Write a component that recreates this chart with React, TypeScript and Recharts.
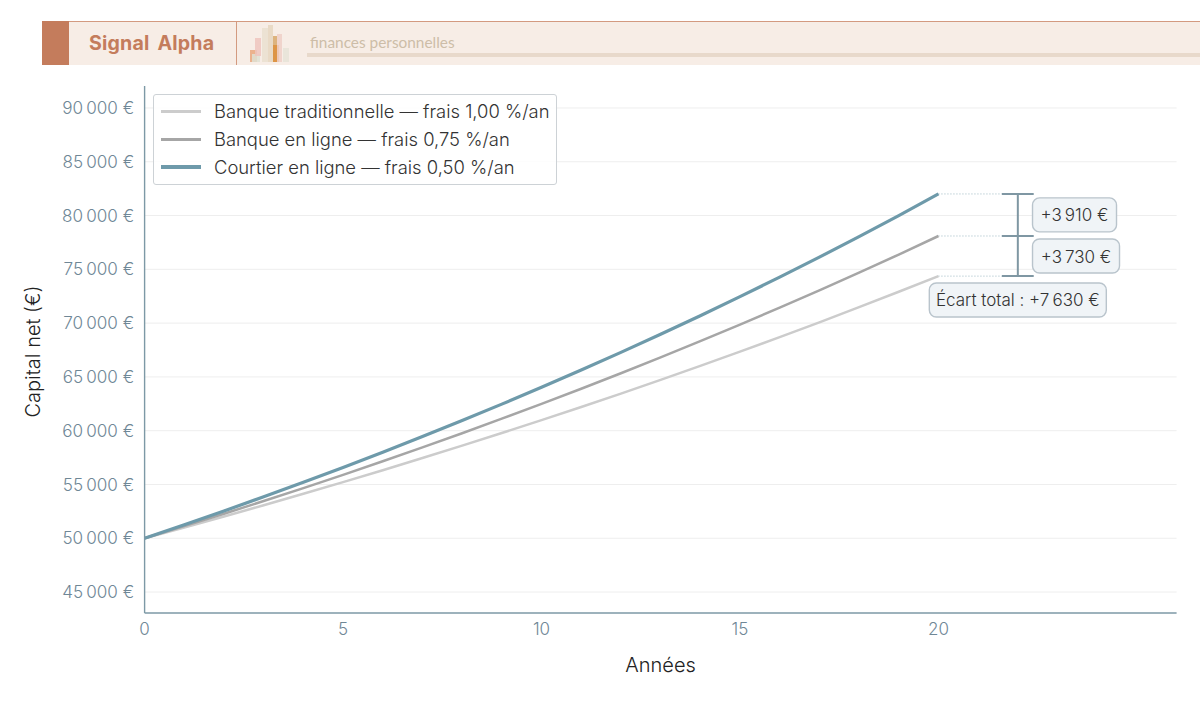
import React from "react";
import { LineChart, Line, XAxis, YAxis, CartesianGrid, ReferenceLine, ReferenceDot } from "recharts";

const years = [0, 1, 2, 3, 4, 5, 6, 7, 8, 9, 10, 11, 12, 13, 14, 15, 16, 17, 18, 19, 20];
const traditionnelle = [50000, 51003, 52025, 53070, 54135, 55215, 56325, 57455, 58610, 59785, 60985, 62205, 63450, 64725, 66025, 67350, 68695, 70075, 71480, 72915, 74370];
const enLigne = [50000, 51127, 52280, 53460, 54665, 55895, 57160, 58450, 59765, 61115, 62490, 63900, 65340, 66810, 68320, 69860, 71435, 73045, 74695, 76375, 78100];
const courtier = [50000, 51252, 52536, 53852, 55200, 56585, 58000, 59452, 60940, 62470, 64035, 65640, 67280, 68965, 70690, 72460, 74275, 76135, 78040, 79995, 82010];
const seriesNames = ["Banque traditionnelle — frais 1,00 %/an", "Banque en ligne — frais 0,75 %/an", "Courtier en ligne — frais 0,50 %/an"];
const seriesColors = ["#cccccc", "#a6a6a6", "#6e9aaa"];
const seriesWidths = [2.5, 2.5, 3.2];
const xTicks = [0, 5, 10, 15, 20];
const yTicks = [45000, 50000, 55000, 60000, 65000, 70000, 75000, 80000, 85000, 90000];
const endValues = [74370, 78100, 82010];
const gapLabels = ["+3\u202f730 €", "+3\u202f910 €", "Écart total : +7\u202f630 €"];

const rows = years.map((y, i) => ({ year: y, a: traditionnelle[i], b: enLigne[i], c: courtier[i] }));
const FONT = "Inter, sans-serif";
const fmt = (v: number) => `${String(v).slice(0, -3)}\u202f${String(v).slice(-3)} €`;

function Badge(props: any) {
  const { cx, cy, w, text } = props;
  return (
    <g>
      <rect x={cx} y={cy - 17} width={w} height={34} rx={7} fill="#f0f4f7" stroke="#b9c4cc" strokeWidth={1.4} />
      <text x={cx + w / 2} y={cy + 6.5} textAnchor="middle" fontFamily={FONT} fontSize={17} fontWeight={300} fill="#333">{text}</text>
    </g>
  );
}

function LegendBox() {
  return (
    <div style={{ position: "absolute", left: 153, top: 94, width: 402, height: 89, border: "1.4px solid #cdd2d6", borderRadius: 3, background: "rgba(255,255,255,0.85)", fontFamily: FONT }}>
      {seriesNames.map((n, i) => (
        <div key={n} style={{ position: "absolute", left: 0, top: 2 + i * 28, height: 28, display: "flex", alignItems: "center", whiteSpace: "nowrap" }}>
          <span style={{ position: "absolute", left: 7, width: 40, height: seriesWidths[i] + 0.5, background: seriesColors[i] }} />
          <span style={{ marginLeft: 60, fontSize: 18.4, fontWeight: 300, color: "#333" }}>{n}</span>
        </div>
      ))}
    </div>
  );
}

const iconBars = [
  [250, 50, 7, 12, "#e9a77e"], [252, 54, 8, 8, "#dfe0d3"], [255, 38, 6, 18, "#efc4bd"], [262, 28, 6, 34, "#eadfcf"],
  [268, 25, 5, 37, "#e6d6bf"], [273, 36, 4, 26, "#d8a86a"], [273, 45, 6, 17, "#dd8f3c"], [277, 34, 5, 28, "#efcfc7"],
  [283, 48, 6, 14, "#e6e3d7"],
] as const;

export default function App() {
  return (
    <div style={{ position: "fixed", left: 0, top: 0, width: 1200, height: 721, background: "#fff" }}>
      <div style={{ position: "absolute", left: 42, top: 21, width: 1158, height: 44, background: "#f7ede6", borderTop: "1px solid #d39a80", boxSizing: "border-box" }} />
      <div style={{ position: "absolute", left: 42, top: 21, width: 27, height: 44, background: "#c47c5c" }} />
      <div style={{ position: "absolute", left: 236, top: 21, width: 1, height: 44, background: "#d39a80" }} />
      <div style={{ position: "absolute", left: 89, top: 31, fontFamily: FONT, fontWeight: 700, fontSize: 19.6, color: "#c47c5c", letterSpacing: 0.2, wordSpacing: 3, whiteSpace: "nowrap" }}>Signal Alpha</div>
      <div style={{ position: "absolute", left: 310, top: 33, fontFamily: "Lato, sans-serif", fontSize: 15.4, color: "#cdbda8", whiteSpace: "nowrap" }}>finances personnelles</div>
      <div style={{ position: "absolute", left: 307, top: 53, width: 893, height: 4, background: "#e8d9cb" }} />
      {iconBars.map(([l, t, w, h, c], i) => (
        <div key={i} style={{ position: "absolute", left: l, top: t, width: w, height: h, background: c as string, opacity: 0.85 }} />
      ))}
      <LineChart width={1200} height={721} data={rows} margin={{ top: 86, right: 23.4, bottom: 0, left: 0.6 }} style={{ position: "absolute", left: 0, top: 0 }}>
        <CartesianGrid horizontal vertical={false} stroke="#eeeeee" strokeWidth={1} syncWithTicks />
        <XAxis dataKey="year" type="number" domain={[0, 26]} ticks={xTicks} height={108} tickLine={false} tickSize={0} tickMargin={10}
          axisLine={{ stroke: "#7d99a6", strokeWidth: 1.4 }} tick={{ fill: "#6f8796", fontSize: 17, fontFamily: FONT, fontWeight: 300 }}
          label={{ value: "Années", position: "insideTop", offset: 45, fill: "#222", fontSize: 20, fontFamily: FONT, fontWeight: 300 }} />
        <YAxis type="number" domain={[43050, 92045]} ticks={yTicks} width={144} tickLine={false} tickSize={0} tickMargin={10.4} tickFormatter={fmt} interval={0}
          axisLine={{ stroke: "#7d99a6", strokeWidth: 1.4 }} tick={{ fill: "#6f8796", fontSize: 17.1, fontFamily: FONT, fontWeight: 300 }}
          label={{ value: "Capital net (€)", angle: -90, position: "insideLeft", offset: 32.4, dy: 2, fill: "#222", fontSize: 20, fontFamily: FONT, fontWeight: 300, style: { textAnchor: "middle" } }} />
        {endValues.map((v) => (
          <ReferenceLine key={v} segment={[{ x: 20, y: v }, { x: 21.6, y: v }]} stroke="#9db8c2" strokeWidth={1} strokeDasharray="1 2" />
        ))}
        {endValues.map((v) => (
          <ReferenceLine key={`cap${v}`} segment={[{ x: 21.6, y: v }, { x: 22.4, y: v }]} stroke="#7f97a3" strokeWidth={2} />
        ))}
        <ReferenceLine segment={[{ x: 22, y: endValues[0] }, { x: 22, y: endValues[2] }]} stroke="#7f97a3" strokeWidth={2} />
        <ReferenceDot x={22.37} y={76240} r={0} shape={(p: any) => <Badge {...p} w={87} text={gapLabels[0]} />} />
        <ReferenceDot x={22.37} y={80060} r={0} shape={(p: any) => <Badge {...p} w={84} text={gapLabels[1]} />} />
        <ReferenceDot x={19.77} y={72150} r={0} shape={(p: any) => <Badge {...p} w={177} text={gapLabels[2]} />} />
        <Line dataKey="a" name={seriesNames[0]} stroke={seriesColors[0]} strokeWidth={seriesWidths[0]} dot={false} isAnimationActive={false} />
        <Line dataKey="b" name={seriesNames[1]} stroke={seriesColors[1]} strokeWidth={seriesWidths[1]} dot={false} isAnimationActive={false} />
        <Line dataKey="c" name={seriesNames[2]} stroke={seriesColors[2]} strokeWidth={seriesWidths[2]} dot={false} isAnimationActive={false} />
      </LineChart>
      <LegendBox />
    </div>
  );
}
